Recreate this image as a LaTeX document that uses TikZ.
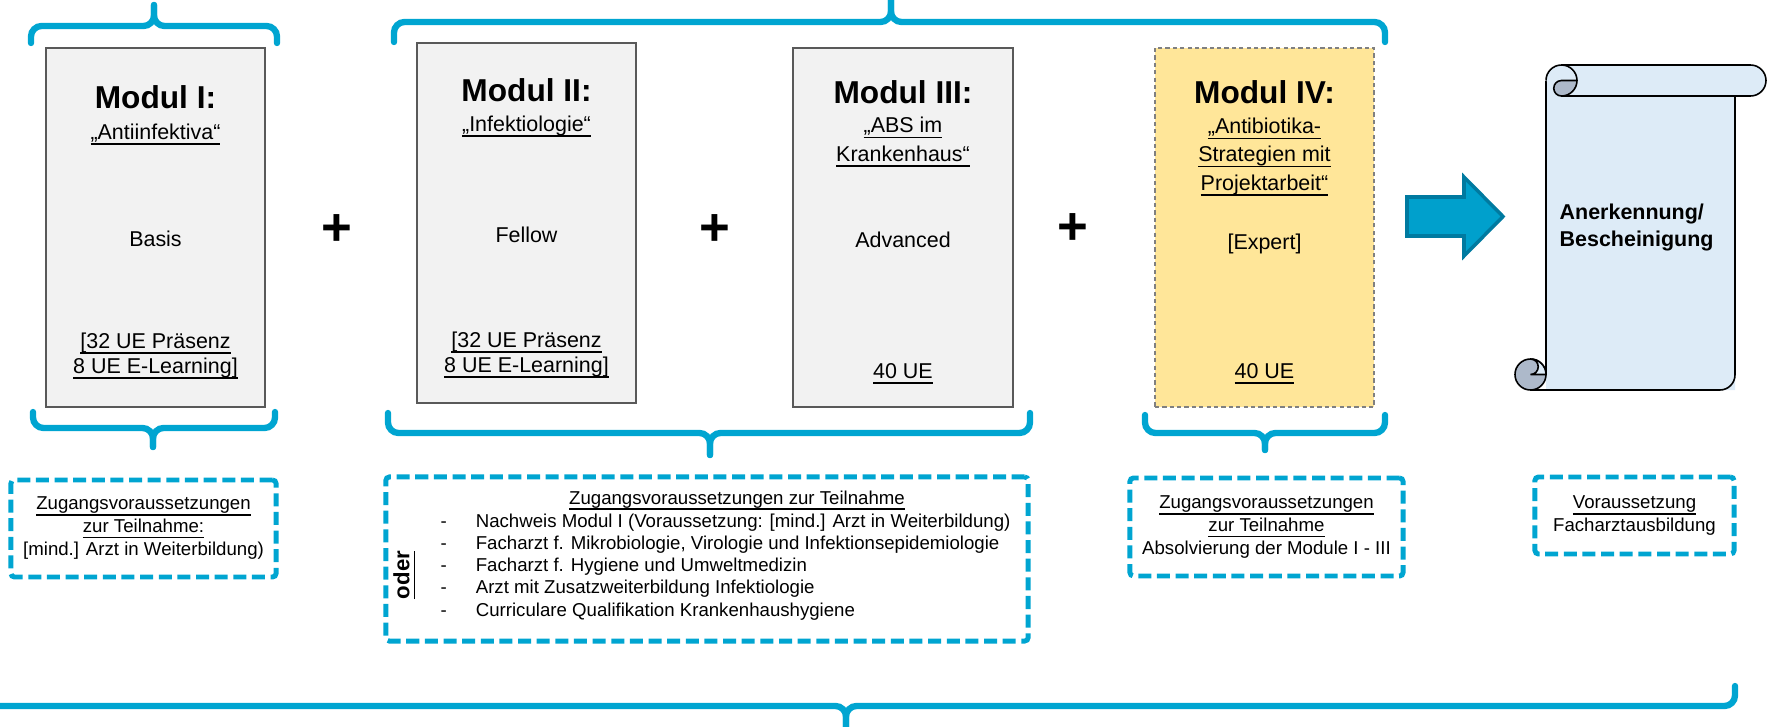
\documentclass[tikz,border=0pt]{standalone}
\usepackage{fontspec}
\setmainfont{Liberation Sans}

\definecolor{bracecyan}{RGB}{0,165,209}
\definecolor{boxgray}{RGB}{242,242,242}
\definecolor{boxline}{RGB}{89,89,89}
\definecolor{gold}{RGB}{255,230,153}
\definecolor{arrowfill}{RGB}{0,160,204}
\definecolor{arrowline}{RGB}{0,122,160}
\definecolor{paper}{RGB}{221,235,247}
\definecolor{curlgray}{RGB}{173,185,202}

\newcommand{\undl}[1]{\underline{\smash{#1}}}

\begin{document}
\begin{tikzpicture}[x=0.01cm, y=-0.01cm,
    module/.style = {draw=boxline, fill=boxgray, line width=0.45pt, minimum width=2.19cm, minimum height=3.59cm, inner sep=0pt},
    expert/.style = {module, fill=gold, draw=gray, line width=0.35pt, dash pattern=on 1.2pt off 0.9pt},
    title/.style = {font=\fontsize{9}{10}\selectfont\bfseries, anchor=base, inner sep=0pt},
    sub/.style = {font=\fontsize{6.1}{8}\selectfont, align=center, anchor=base, inner sep=0pt},
    body/.style = {font=\fontsize{6.1}{7.1}\selectfont, align=center, anchor=base, inner sep=0pt},
    small/.style = {font=\fontsize{5.3}{6.4}\selectfont, align=center, anchor=base, inner sep=0pt},
    dashbox/.style = {draw=bracecyan, line width=1.4pt, dash pattern=on 3.7pt off 1.6pt, rounded corners=1pt, inner sep=0pt},
    brace/.style = {draw=bracecyan, line width=1.8pt, rounded corners=3pt, line cap=round},
    plus/.style = {font=\fontsize{15}{15}\selectfont\bfseries, inner sep=0pt},
    bigarrow/.style = {fill=arrowfill, draw=arrowline, line width=1pt},
    scrollline/.style = {draw=black, line width=0.45pt}]

    \useasboundingbox (0,0) rectangle (1768,727);

    \node[module] (m1) at (155.5,227.5) {};
    \node[title] (m1t) at (155.5,108) {Modul I:};
    \node[sub] (m1s) at (155.5,139) {\undl{„Antiinfektiva“}};
    \node[body] (m1l) at (155.5,246) {Basis};
    \node[body] (m1h) at (155.5,373) {\undl{[32 UE Präsenz}\\\undl{8 UE E-Learning]}};

    \node[module, minimum height=3.60cm] (m2) at (526.5,223) {};
    \node[title] (m2t) at (526.5,101) {Modul II:};
    \node[sub] (m2s) at (526.5,131) {\undl{„Infektiologie“}};
    \node[body] (m2l) at (526.5,242) {Fellow};
    \node[body] (m2h) at (526.5,372) {\undl{[32 UE Präsenz}\\\undl{8 UE E-Learning]}};

    \node[module, minimum width=2.20cm] (m3) at (903,227.5) {};
    \node[title] (m3t) at (903,103) {Modul III:};
    \node[sub] (m3s) at (903,161) {\undl{„ABS im}\\\undl{Krankenhaus“}};
    \node[body] (m3l) at (903,247) {Advanced};
    \node[body] (m3h) at (903,378) {\undl{40 UE}};

    \node[expert] (m4) at (1264.5,227.5) {};
    \node[title] (m4t) at (1264.5,103) {Modul IV:};
    \node[sub] (m4s) at (1264.5,190) {\undl{„Antibiotika-}\\\undl{Strategien mit}\\\undl{Projektarbeit“}};
    \node[body] (m4l) at (1264.5,249) {[Expert]};
    \node[body] (m4h) at (1264.5,378) {\undl{40 UE}};

    \node[plus] (p1) at (337,230) {+};
    \node[plus] (p2) at (715,230) {+};
    \node[plus] (p3) at (1073,229) {+};

    \draw[brace] (31,43) -- (31,26) -- (154,26) -- (154,5);
    \draw[brace] (277,43) -- (277,26) -- (154,26) -- (154,5);
    \draw[brace] (394,42) -- (394,22) -- (891,22) -- (891,-5);
    \draw[brace] (1385,42) -- (1385,22) -- (891,22) -- (891,-5);

    \draw[brace] (33,412) -- (33,428) -- (153,428) -- (153,447);
    \draw[brace] (275,412) -- (275,428) -- (153,428) -- (153,447);
    \draw[brace] (388,413) -- (388,433) -- (710,433) -- (710,455);
    \draw[brace] (1030,413) -- (1030,433) -- (710,433) -- (710,455);
    \draw[brace] (1145,415) -- (1145,433) -- (1265,433) -- (1265,450);
    \draw[brace] (1385,415) -- (1385,433) -- (1265,433) -- (1265,450);
    \draw[brace] (-20,706) -- (846,706) -- (846,740);
    \draw[brace] (1735,686) -- (1735,706) -- (846,706) -- (846,740);

    \draw[bigarrow] (1407,197) -- (1464,197) -- (1464,177) -- (1503,216.5) -- (1464,256) -- (1464,236) -- (1407,236) -- cycle;

    \fill[paper] (1546,80.5) -- (1546,390) -- (1735,390) -- (1735,96) -- (1561.5,96) -- cycle;
    \draw[scrollline] (1546,80.5) -- (1546,374.5);
    \draw[scrollline, rounded corners=4.3pt] (1530.5,390) -- (1735,390) -- (1735,96);
    \filldraw[scrollline, fill=paper] (1561.5,96) -- (1750.5,96) arc[start angle=90, end angle=-90, radius=15.5] -- (1561.5,65) arc[start angle=-90, end angle=-180, radius=15.5];
    \draw[scrollline] (1561.5,65) arc[start angle=-90, end angle=0, radius=15.5];
    \filldraw[scrollline, fill=curlgray] (1577,80.5) arc[start angle=0, end angle=90, radius=15.5] arc[start angle=90, end angle=270, radius=7.75] -- cycle;
    \filldraw[scrollline, fill=curlgray] (1530.5,374.5) circle[radius=15.5];
    \filldraw[scrollline, fill=paper] (1530.5,359) arc[start angle=-90, end angle=0, radius=15.5] -- (1530.5,374.5) arc[start angle=90, end angle=-90, radius=7.75] -- cycle;
    \node[font=\fontsize{6.1}{7.4}\selectfont\bfseries, align=left, anchor=base west, inner sep=0pt] (cert) at (1559,246) {Anerkennung/\\Bescheinigung};

    \node[dashbox, minimum width=2.65cm, minimum height=0.97cm] (reqA) at (143.5,528.5) {};
    \node[small] (reqAt) at (143.5,555) {\undl{Zugangsvoraussetzungen}\\\undl{zur Teilnahme:}\\{}[mind.] Arzt in Weiterbildung)};

    \node[dashbox, minimum width=6.42cm, minimum height=1.64cm] (reqB) at (707,559) {};
    \node[small] (reqBt) at (737,504) {\undl{Zugangsvoraussetzungen zur Teilnahme}};
    \node[small, font=\fontsize{5.3}{6.26}\selectfont, align=left, anchor=base west] (reqBl) at (440,616) {\makebox[10pt][l]{-}Nachweis Modul I (Voraussetzung: [mind.] Arzt in Weiterbildung)\\\makebox[10pt][l]{-}Facharzt f. Mikrobiologie, Virologie und Infektionsepidemiologie\\\makebox[10pt][l]{-}Facharzt f. Hygiene und Umweltmedizin\\\makebox[10pt][l]{-}Arzt mit Zusatzweiterbildung Infektiologie\\\makebox[10pt][l]{-}Curriculare Qualifikation Krankenhaushygiene};
    \node[font=\fontsize{6.3}{7}\selectfont\bfseries, rotate=90, inner sep=0pt] (oder) at (413,575) {\undl{oder}};

    \node[dashbox, minimum width=2.73cm, minimum height=0.98cm] (reqC) at (1266.5,527) {};
    \node[small] (reqCt) at (1266.5,554) {\undl{Zugangsvoraussetzungen}\\\undl{zur Teilnahme}\\Absolvierung der Module I - III};

    \node[dashbox, minimum width=1.99cm, minimum height=0.77cm] (reqD) at (1634.5,515.5) {};
    \node[small] (reqDt) at (1634.5,531.5) {\undl{Voraussetzung}\\Facharztausbildung};

\end{tikzpicture}
\end{document}
